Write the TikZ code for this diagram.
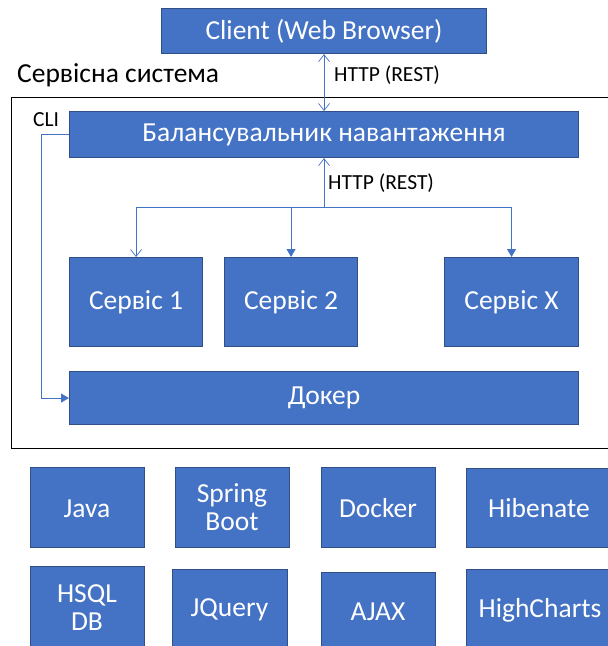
\documentclass[tikz,border=0pt]{standalone}
\usepackage{fontspec}
\setmainfont{Carlito}
\usetikzlibrary{arrows.meta}
\definecolor{boxblue}{HTML}{4472C4}
\definecolor{boxedge}{HTML}{2F4F85}
\definecolor{linkblue}{HTML}{4472C4}
\tikzset{
  bigfont/.style={font=\fontsize{27.5}{31}\selectfont},
  box/.style={draw=boxedge, line width=1.1pt, fill=boxblue, text=white, anchor=north west, inner sep=0pt, align=center, bigfont},
  btxt/.style={text=white, bigfont, align=center, inner sep=0pt},
  link/.style={draw=linkblue, line width=0.8pt},
  openhead/.style={-{Straight Barb[length=7pt,width=11pt,line width=0.7pt]}},
  fillhead/.style={-{Triangle[length=8pt,width=9pt]}},
  lbl/.style={font=\fontsize{21.5}{24}\selectfont, inner sep=0pt}
}
\begin{document}
\begin{tikzpicture}[x=1pt,y=-1pt]
\useasboundingbox (0,0) rectangle (608,646);
\begin{scope}
\clip (0,0) rectangle (608,646);
\node[draw=black, line width=1.3pt, anchor=north west, minimum width=620pt, minimum height=351pt, inner sep=0pt] (frame) at (11,97) {};
\node[box, minimum width=325pt, minimum height=45pt] (client) at (161,8) {Client (Web Browser)};
\node[box, minimum width=509pt, minimum height=46pt] (bal) at (69,111) {Балансувальник навантаження};
\node[box, minimum width=133pt, minimum height=89pt] (s1) at (69,257) {Сервіс 1};
\node[box, minimum width=133pt, minimum height=89pt] (s2) at (224,257) {Сервіс 2};
\node[box, minimum width=134pt, minimum height=89pt] (sx) at (444,257) {Сервіс X};
\node[box, minimum width=509pt, minimum height=53pt] (dock) at (69,371) {Докер};
\node[box, minimum width=114pt, minimum height=80pt] (java) at (30,467) {};
\node[btxt] (javat) at (87,509) {Java};
\node[box, minimum width=114pt, minimum height=80pt] (spring) at (175,467) {};
\node[btxt] (springt) at (232,507) {Spring\\[-3pt]Boot};
\node[box, minimum width=114pt, minimum height=80pt] (docker) at (321,467) {};
\node[btxt] (dockert) at (378,508) {Docker};
\node[box, minimum width=160pt, minimum height=79pt] (hib) at (466,468) {};
\node[btxt] (hibt) at (539,508) {Hibenate};
\node[box, minimum width=114pt, minimum height=100pt] (hsql) at (30,566) {};
\node[btxt] (hsqlt) at (87,608) {HSQL\\[-3pt]DB};
\node[box, minimum width=115pt, minimum height=100pt] (jq) at (172,569) {};
\node[btxt] (jqt) at (229.5,610) {JQuery};
\node[box, minimum width=114pt, minimum height=100pt] (ajax) at (321,572) {};
\node[btxt] (ajaxt) at (378,612) {AJAX};
\node[box, minimum width=160pt, minimum height=100pt] (hc) at (466,569) {};
\node[btxt] (hct) at (540,610) {HighCharts};
\end{scope}
\node[bigfont, anchor=west, inner sep=0pt] (sys) at (17,75) {Сервісна система};
\node[lbl, anchor=west] (cli) at (33,120) {CLI};
\node[lbl, anchor=west] (http1) at (334,75) {HTTP (REST)};
\node[lbl, anchor=west] (http2) at (328,183) {HTTP (REST)};
\coordinate (j) at (bal.south |- 0,207);
\coordinate (j1) at (s1.north |- j);
\coordinate (j2) at (s2.north |- j);
\coordinate (jx) at (sx.north |- j);
\coordinate (c1) at (41,0);
\draw[link, {Straight Barb[length=7pt,width=11pt,line width=0.7pt]}-{Straight Barb[length=7pt,width=11pt,line width=0.7pt]}] (client.south) -- (bal.north);
\draw[link, openhead] (j) -- (bal.south);
\draw[link] (j1) -- (jx);
\draw[link, openhead] (j1) -- (s1.north);
\draw[link, fillhead] (j2) -- (s2.north);
\draw[link, fillhead] (jx) -- (sx.north);
\draw[link, fillhead] (bal.west) -| (c1 |- dock.west) -- (dock.west);
\end{tikzpicture}
\end{document}
